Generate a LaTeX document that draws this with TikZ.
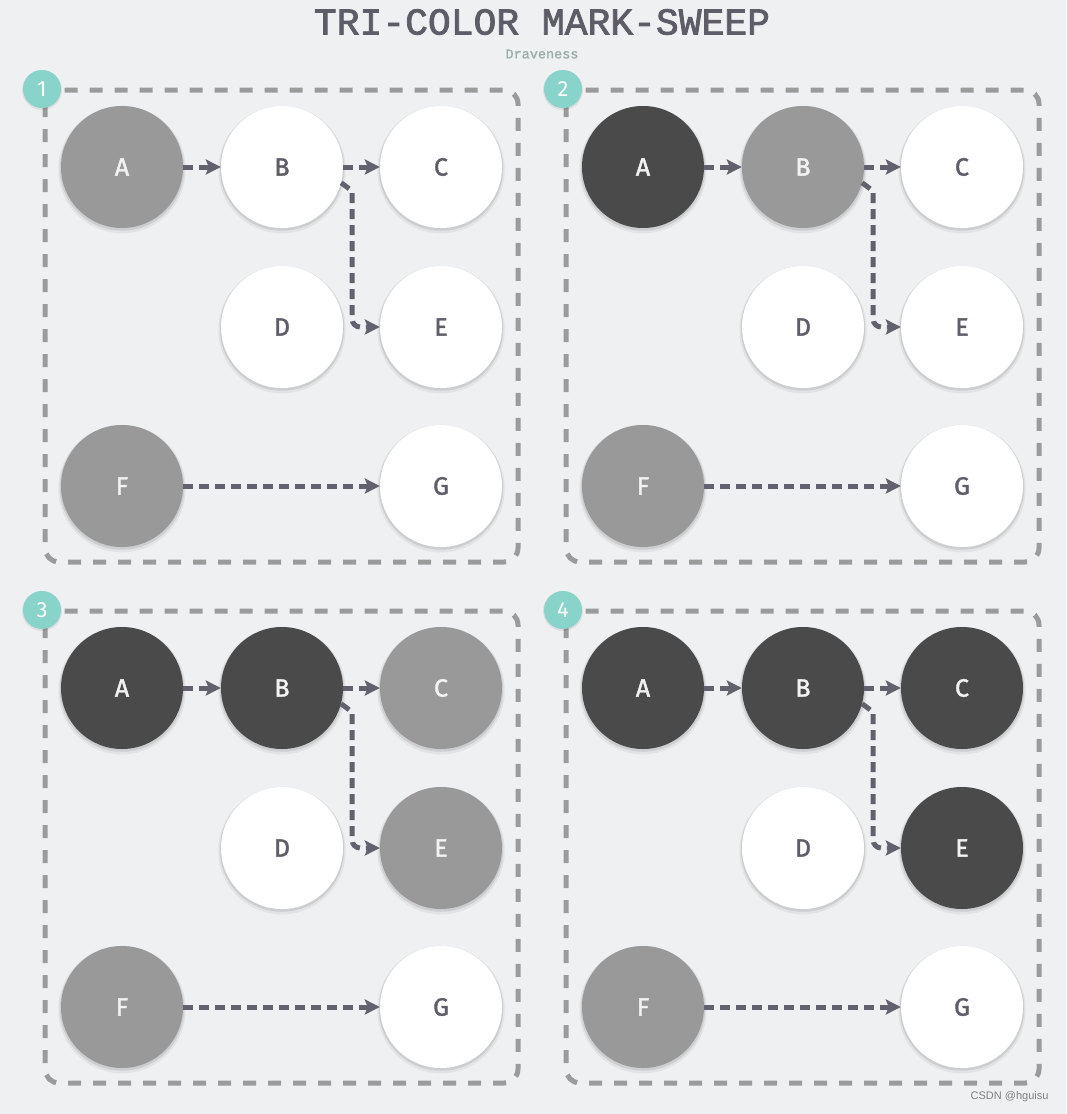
\documentclass[tikz,border=0pt]{standalone}
\usepackage{fontspec}
\setmainfont{Fira Sans}
\newfontfamily\nodefont{Fira Sans}[FakeBold=1.6]
\newfontfamily\titlefont{Liberation Mono}[FakeBold=2]
\newfontfamily\subfont{Liberation Mono}[FakeBold=1]
\newfontfamily\wmfont{Liberation Sans}
\usetikzlibrary{arrows.meta,shadows}
\definecolor{bgc}{HTML}{EFF0F2}
\definecolor{boxc}{HTML}{9B9B9B}
\definecolor{arrc}{HTML}{62616D}
\definecolor{grayn}{HTML}{999999}
\definecolor{blackn}{HTML}{4A4A4A}
\definecolor{lettc}{HTML}{5E5D68}
\definecolor{tealc}{HTML}{88D3CA}
\definecolor{titlec}{HTML}{5D5C67}
\definecolor{subc}{HTML}{9AABA9}
\tikzset{
  basenode/.style={circle, minimum size=122pt, inner sep=0pt,
    font=\nodefont\fontsize{25}{28}\selectfont,
    general shadow={fill=black, opacity=0.05, shadow scale=1.045, shadow yshift=-2.5pt},
    general shadow={fill=black, opacity=0.09, shadow scale=1.02, shadow yshift=-1.5pt}},
  wnode/.style={basenode, fill=white, text=lettc},
  gnode/.style={basenode, fill=grayn, text=white!95!black},
  bnode/.style={basenode, fill=blackn, text=white!95!black},
  edge/.style={draw=arrc, line width=5pt, dash pattern=on 10pt off 6pt,
    -{Stealth[length=15pt, width=15pt, inset=3pt]}},
  boxline/.style={draw=boxc, line width=5pt, dash pattern=on 13pt off 12pt, rounded corners=14pt},
  badge/.style={circle, fill=tealc, minimum size=38pt, inner sep=0pt, text=white,
    font=\fontsize{22}{24}\selectfont,
    general shadow={fill=black, opacity=0.08, shadow scale=1.05, shadow yshift=-1pt}}
}
\newcommand\trpanel[7]{%
\begin{scope}[shift={(#2,#3)}]
  \draw[boxline] (45,90) rectangle (518,562);
  \node[#4] (A#1) at (122,167) {A};
  \node[#5] (B#1) at (282,167) {B};
  \node[#6] (C#1) at (441,167) {C};
  \node[wnode] (D#1) at (282,327) {D};
  \node[#7] (E#1) at (441,327) {E};
  \node[gnode] (F#1) at (122,486) {F};
  \node[wnode] (G#1) at (441,486) {G};
  \draw[edge] (A#1.east) -- (B#1.west);
  \draw[edge] (B#1.east) -- (C#1.west);
  \draw[edge] (F#1.east) -- (G#1.west);
  \draw[edge, rounded corners=8pt] (B#1.-15) to[out=-35,in=90] ++(11,16) |- (E#1.west);
  \node[badge] (N#1) at (42,89) {#1};
\end{scope}}
\begin{document}
\begin{tikzpicture}[x=1pt,y=-1pt]
\fill[bgc] (0,0) rectangle (1066,1114);
\useasboundingbox (0,0) rectangle (1066,1114);
\node[font=\titlefont\fontsize{38}{40}\selectfont, text=titlec] (title) at (542,22) {TRI-COLOR MARK-SWEEP};
\node[font=\subfont\fontsize{13.5}{14}\selectfont, text=subc] (sub) at (542,54) {Draveness};
\trpanel{1}{0}{0}{gnode}{wnode}{wnode}{wnode}
\trpanel{2}{521}{0}{bnode}{gnode}{wnode}{wnode}
\trpanel{3}{0}{521}{bnode}{bnode}{gnode}{gnode}
\trpanel{4}{521}{521}{bnode}{bnode}{bnode}{bnode}
\node[anchor=east, font=\wmfont\fontsize{11}{12}\selectfont, text=black!50] (wm) at (1052,1097) {CSDN @hguisu};
\end{tikzpicture}
\end{document}
